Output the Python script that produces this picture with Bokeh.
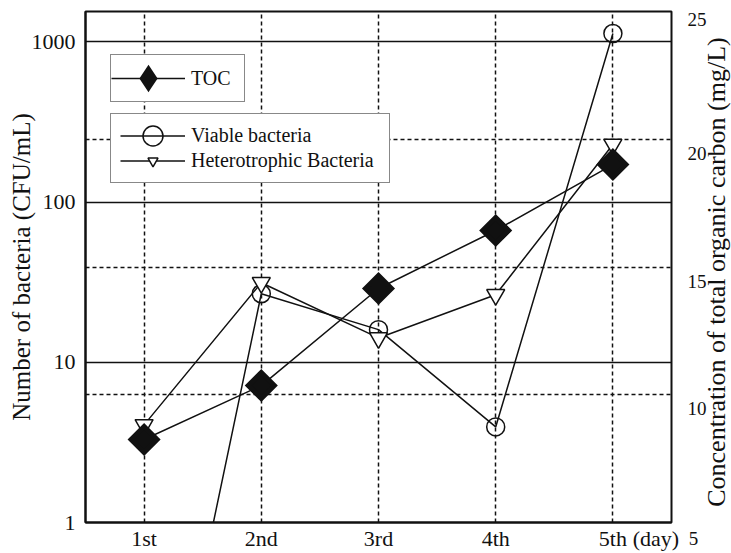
import math
from bokeh.plotting import figure
from bokeh.layouts import row
from bokeh.models import (Range1d, LinearScale, FixedTicker, Grid, Legend,
                          LegendItem, Label, PrintfTickFormatter)
from bokeh.embed import file_html
from bokeh.resources import INLINE

# ---- data ----
categories = ["1st", "2nd", "3rd", "4th", "5th"]
day_unit = "(day)"
viable_bacteria = [0.0086, 26.8, 16.0, 3.95, 1130]          # CFU/mL (left, log)
heterotrophic_bacteria = [4.07, 31.4, 14.2, 26.4, 229]      # CFU/mL (left, log)
toc = [8.25, 10.36, 14.16, 16.43, 19.01]                    # mg/L (right)
left_ticks = [1, 10, 100, 1000]
left_grid = [10, 100, 1000]
right_ticks = [5, 10, 15, 20, 25]
right_grid = [10, 15, 20]

FONT = "Liberation Serif"
INK = "#111111"

# ---- layout constants (pixels) ----
FRAME_W, FRAME_H = 586, 511
B_LEFT, B_RIGHT, B_TOP, B_BOTTOM = 85, 15, 11, 31
SIDE_W = 45

xs = list(range(1, len(categories) + 1))
x_end = len(categories) + 0.5

p = figure(width=B_LEFT + FRAME_W + B_RIGHT, height=B_TOP + FRAME_H + B_BOTTOM,
           output_backend="svg", toolbar_location=None, y_axis_type="log",
           x_range=Range1d(0.5, x_end), y_range=Range1d(1, 1550),
           min_border_left=B_LEFT, min_border_right=B_RIGHT,
           min_border_top=B_TOP, min_border_bottom=B_BOTTOM)
p.extra_y_ranges = {"toc": Range1d(right_ticks[0], right_ticks[-1])}
p.extra_y_scales = {"toc": LinearScale()}
p.outline_line_color = INK
p.outline_line_width = 2

# bottom axis (the unit "(day)" sits just right of the last category label)
day_pos = xs[-1] + 0.367
xa = p.xaxis[0]
xa.ticker = FixedTicker(ticks=xs + [day_pos])
overrides = {i: c for i, c in zip(xs, categories)}
overrides[day_pos] = day_unit
xa.major_label_overrides = overrides
xa.major_tick_in = 0
xa.major_tick_out = 0
xa.minor_tick_line_color = None
xa.axis_line_color = INK
xa.axis_line_width = 2
xa.major_label_standoff = 3
xa.major_label_text_font = FONT
xa.major_label_text_font_size = "22px"
xa.major_label_text_color = INK

# left axis
ya = p.yaxis[0]
ya.ticker = FixedTicker(ticks=left_ticks)
ya.formatter = PrintfTickFormatter(format="%d")
ya.major_tick_in = 0
ya.major_tick_out = 0
ya.minor_tick_line_color = None
ya.axis_line_color = INK
ya.axis_line_width = 2
ya.major_label_standoff = 10
ya.major_label_text_font = FONT
ya.major_label_text_font_size = "22px"
ya.major_label_text_color = INK
ya.axis_label = "Number of bacteria (CFU/mL)"
ya.axis_label_text_font = FONT
ya.axis_label_text_font_size = "25px"
ya.axis_label_text_font_style = "normal"
ya.axis_label_text_color = INK
ya.axis_label_standoff = -6

# grids
p.xgrid[0].ticker = FixedTicker(ticks=xs)
p.xgrid[0].grid_line_color = INK
p.xgrid[0].grid_line_width = 1.5
p.xgrid[0].grid_line_dash = "4 3"
p.ygrid[0].ticker = FixedTicker(ticks=left_grid)
p.ygrid[0].grid_line_color = INK
p.ygrid[0].grid_line_width = 1.5
p.add_layout(Grid(dimension=1, ticker=FixedTicker(ticks=right_grid),
                  y_range_name="toc", grid_line_color=INK,
                  grid_line_width=1.5, grid_line_dash="4 3"))

# series
lv = p.line(xs, viable_bacteria, line_color=INK, line_width=1.5)
lh = p.line(xs, heterotrophic_bacteria, line_color=INK, line_width=1.5)
lt = p.line(xs, toc, y_range_name="toc", line_color=INK, line_width=1.5)
sv = p.ellipse(xs, viable_bacteria, width=18, height=18, width_units="screen",
               height_units="screen", fill_color=None, line_color=INK,
               line_width=1.5)
sh = p.scatter(xs, heterotrophic_bacteria, marker="inverted_triangle", size=18,
               fill_color="white", line_color=INK, line_width=1.5)
st = p.scatter(xs, toc, y_range_name="toc", marker="square", angle=math.pi / 4,
               size=18.4, fill_color=INK, line_color=INK, line_width=5,
               line_join="miter")
# legend key for TOC (a diamond; legend keys are never rotated)
st_key = p.scatter(xs, toc, y_range_name="toc", marker="diamond", size=18,
                   fill_color=INK, line_color=INK, line_width=5,
                   line_join="miter", visible=False)

leg_style = dict(margin=0, label_standoff=6, label_text_font=FONT,
                 label_text_font_size="20px", label_text_color=INK,
                 border_line_color=INK, border_line_width=1.5,
                 background_fill_color="white", background_fill_alpha=1.0,
                 inactive_fill_alpha=0.0, spacing=0)
leg1 = Legend(items=[LegendItem(label="TOC", renderers=[lt, st_key])],
              location=(25, 420), padding=0, glyph_width=74, glyph_height=46,
              label_width=53, **leg_style)
leg2 = Legend(items=[LegendItem(label="Viable bacteria", renderers=[lv, sv]),
                     LegendItem(label="Heterotrophic Bacteria", renderers=[lh, sh])],
              location=(25, 339), padding=9, glyph_width=65, glyph_height=25,
              label_width=189, **leg_style)
p.add_layout(leg1)
p.add_layout(leg2)

# right-hand scale (mg/L) drawn in a side panel whose frame lines up with the plot frame
side = figure(width=SIDE_W, height=B_TOP + FRAME_H + B_BOTTOM,
              output_backend="svg", toolbar_location=None,
              x_axis_location="below", y_axis_location=None,
              x_range=Range1d(0, SIDE_W),
              y_range=Range1d(right_ticks[0], right_ticks[-1]),
              min_border_left=0, min_border_right=0,
              min_border_top=B_TOP, min_border_bottom=B_BOTTOM)
side.outline_line_color = None
side.grid.visible = False
# lowest scale value sits below the frame, so it is carried by the side panel's bottom axis
bottom_label_x = 7
sx = side.xaxis[0]
sx.ticker = FixedTicker(ticks=[bottom_label_x])
sx.major_label_overrides = {bottom_label_x: str(right_ticks[0])}
sx.axis_line_color = None
sx.major_tick_line_color = None
sx.minor_tick_line_color = None
sx.major_label_standoff = 3
sx.major_label_text_font = FONT
sx.major_label_text_font_size = "19px"
sx.major_label_text_color = INK
for v in right_ticks[1:]:
    side.add_layout(Label(x=1, y=v, y_offset=(-8 if v == right_ticks[-1] else -14),
                          text=str(v), text_align="left", text_baseline="middle",
                          text_font=FONT, text_font_size="19px", text_color=INK))
side.add_layout(Label(x=30, y=(right_ticks[0] + right_ticks[-1]) / 2, y_offset=-5,
                      angle=math.pi / 2, text="Concentration of total organic carbon (mg/L)",
                      text_align="center", text_baseline="middle",
                      text_font=FONT, text_font_size="26px", text_color=INK))

layout = row(p, side)
open("out.html", "w").write(file_html(layout, INLINE))
